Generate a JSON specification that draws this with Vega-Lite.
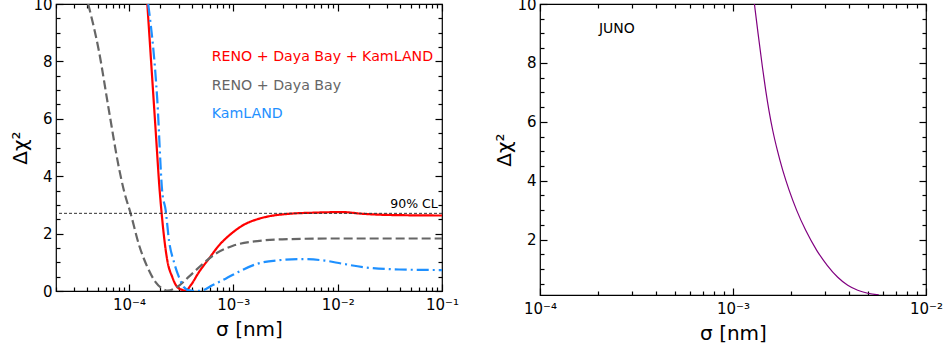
{
  "$schema": "https://vega.github.io/schema/vega-lite/v6.json",
  "padding": {"left": 10, "top": -4, "right": 5, "bottom": 5},
  "background": "white",
  "bounds": "flush",
  "spacing": 98,
  "config": {
    "font": "DejaVu Sans",
    "view": {"stroke": "black", "strokeWidth": 1.2},
    "axis": {
      "domain": false,
      "grid": false,
      "tickColor": "black",
      "tickWidth": 1.2,
      "labelColor": "black",
      "labelFontSize": 15,
      "labelFont": "DejaVu Sans",
      "titleFont": "DejaVu Sans",
      "titleFontSize": 20,
      "titleFontWeight": "normal",
      "titleColor": "black",
      "labelFlush": false,
      "labelOverlap": false,
      "labelBound": false
    }
  },
  "datasets": {
    "left": [
      {"series": "RENO + Daya Bay + KamLAND", "sigma": 0.000150, "chi2": 10.0},
      {"series": "RENO + Daya Bay + KamLAND", "sigma": 0.000170, "chi2": 7.0},
      {"series": "RENO + Daya Bay + KamLAND", "sigma": 0.000181, "chi2": 5.5},
      {"series": "RENO + Daya Bay + KamLAND", "sigma": 0.000197, "chi2": 3.5},
      {"series": "RENO + Daya Bay + KamLAND", "sigma": 0.000206, "chi2": 2.69},
      {"series": "RENO + Daya Bay + KamLAND", "sigma": 0.000220, "chi2": 1.7},
      {"series": "RENO + Daya Bay + KamLAND", "sigma": 0.000233, "chi2": 1.07},
      {"series": "RENO + Daya Bay + KamLAND", "sigma": 0.000260, "chi2": 0.49},
      {"series": "RENO + Daya Bay + KamLAND", "sigma": 0.000290, "chi2": 0.14},
      {"series": "RENO + Daya Bay + KamLAND", "sigma": 0.000324, "chi2": 0.04},
      {"series": "RENO + Daya Bay + KamLAND", "sigma": 0.000350, "chi2": 0.01},
      {"series": "RENO + Daya Bay + KamLAND", "sigma": 0.000391, "chi2": 0.2},
      {"series": "RENO + Daya Bay + KamLAND", "sigma": 0.000469, "chi2": 0.66},
      {"series": "RENO + Daya Bay + KamLAND", "sigma": 0.000585, "chi2": 1.13},
      {"series": "RENO + Daya Bay + KamLAND", "sigma": 0.000730, "chi2": 1.59},
      {"series": "RENO + Daya Bay + KamLAND", "sigma": 0.000980, "chi2": 2.03},
      {"series": "RENO + Daya Bay + KamLAND", "sigma": 0.00131, "chi2": 2.34},
      {"series": "RENO + Daya Bay + KamLAND", "sigma": 0.00170, "chi2": 2.5},
      {"series": "RENO + Daya Bay + KamLAND", "sigma": 0.00205, "chi2": 2.58},
      {"series": "RENO + Daya Bay + KamLAND", "sigma": 0.00342, "chi2": 2.69},
      {"series": "RENO + Daya Bay + KamLAND", "sigma": 0.0060, "chi2": 2.73},
      {"series": "RENO + Daya Bay + KamLAND", "sigma": 0.0111, "chi2": 2.75},
      {"series": "RENO + Daya Bay + KamLAND", "sigma": 0.0173, "chi2": 2.69},
      {"series": "RENO + Daya Bay + KamLAND", "sigma": 0.030, "chi2": 2.65},
      {"series": "RENO + Daya Bay + KamLAND", "sigma": 0.100, "chi2": 2.63},
      {"series": "RENO + Daya Bay", "sigma": 0.0000407, "chi2": 10.0},
      {"series": "RENO + Daya Bay", "sigma": 0.0000515, "chi2": 8.37},
      {"series": "RENO + Daya Bay", "sigma": 0.0000643, "chi2": 6.29},
      {"series": "RENO + Daya Bay", "sigma": 0.0000800, "chi2": 4.31},
      {"series": "RENO + Daya Bay", "sigma": 0.0000895, "chi2": 3.5},
      {"series": "RENO + Daya Bay", "sigma": 0.000104, "chi2": 2.69},
      {"series": "RENO + Daya Bay", "sigma": 0.000125, "chi2": 1.6},
      {"series": "RENO + Daya Bay", "sigma": 0.000150, "chi2": 0.84},
      {"series": "RENO + Daya Bay", "sigma": 0.000180, "chi2": 0.31},
      {"series": "RENO + Daya Bay", "sigma": 0.000217, "chi2": 0.05},
      {"series": "RENO + Daya Bay", "sigma": 0.000235, "chi2": 0.01},
      {"series": "RENO + Daya Bay", "sigma": 0.000290, "chi2": 0.14},
      {"series": "RENO + Daya Bay", "sigma": 0.000376, "chi2": 0.5},
      {"series": "RENO + Daya Bay", "sigma": 0.000505, "chi2": 0.93},
      {"series": "RENO + Daya Bay", "sigma": 0.000678, "chi2": 1.3},
      {"series": "RENO + Daya Bay", "sigma": 0.000980, "chi2": 1.57},
      {"series": "RENO + Daya Bay", "sigma": 0.00170, "chi2": 1.74},
      {"series": "RENO + Daya Bay", "sigma": 0.00295, "chi2": 1.8},
      {"series": "RENO + Daya Bay", "sigma": 0.0089, "chi2": 1.83},
      {"series": "RENO + Daya Bay", "sigma": 0.100, "chi2": 1.83},
      {"series": "KamLAND", "sigma": 0.000153, "chi2": 10.0},
      {"series": "KamLAND", "sigma": 0.000187, "chi2": 6.64},
      {"series": "KamLAND", "sigma": 0.000208, "chi2": 3.5},
      {"series": "KamLAND", "sigma": 0.000225, "chi2": 2.81},
      {"series": "KamLAND", "sigma": 0.000242, "chi2": 1.76},
      {"series": "KamLAND", "sigma": 0.000270, "chi2": 1.01},
      {"series": "KamLAND", "sigma": 0.000301, "chi2": 0.49},
      {"series": "KamLAND", "sigma": 0.000336, "chi2": 0.14},
      {"series": "KamLAND", "sigma": 0.000376, "chi2": 0.02},
      {"series": "KamLAND", "sigma": 0.000440, "chi2": 0.0},
      {"series": "KamLAND", "sigma": 0.000505, "chi2": 0.02},
      {"series": "KamLAND", "sigma": 0.000630, "chi2": 0.2},
      {"series": "KamLAND", "sigma": 0.000845, "chi2": 0.43},
      {"series": "KamLAND", "sigma": 0.00114, "chi2": 0.68},
      {"series": "KamLAND", "sigma": 0.00170, "chi2": 0.95},
      {"series": "KamLAND", "sigma": 0.00270, "chi2": 1.07},
      {"series": "KamLAND", "sigma": 0.00460, "chi2": 1.11},
      {"series": "KamLAND", "sigma": 0.0075, "chi2": 1.06},
      {"series": "KamLAND", "sigma": 0.0111, "chi2": 0.95},
      {"series": "KamLAND", "sigma": 0.0186, "chi2": 0.82},
      {"series": "KamLAND", "sigma": 0.0388, "chi2": 0.75},
      {"series": "KamLAND", "sigma": 0.100, "chi2": 0.73}
    ],
    "right": [
      {"series": "JUNO", "sigma": 0.001291, "chi2": 10.0},
      {"series": "JUNO", "sigma": 0.001343, "chi2": 9.095},
      {"series": "JUNO", "sigma": 0.001421, "chi2": 7.851},
      {"series": "JUNO", "sigma": 0.001478, "chi2": 7.061},
      {"series": "JUNO", "sigma": 0.001536, "chi2": 6.383},
      {"series": "JUNO", "sigma": 0.001607, "chi2": 5.705},
      {"series": "JUNO", "sigma": 0.001698, "chi2": 5.027},
      {"series": "JUNO", "sigma": 0.001811, "chi2": 4.349},
      {"series": "JUNO", "sigma": 0.001955, "chi2": 3.671},
      {"series": "JUNO", "sigma": 0.002138, "chi2": 2.993},
      {"series": "JUNO", "sigma": 0.002381, "chi2": 2.315},
      {"series": "JUNO", "sigma": 0.002715, "chi2": 1.637},
      {"series": "JUNO", "sigma": 0.003077, "chi2": 1.129},
      {"series": "JUNO", "sigma": 0.003489, "chi2": 0.722},
      {"series": "JUNO", "sigma": 0.003931, "chi2": 0.451},
      {"series": "JUNO", "sigma": 0.004429, "chi2": 0.281},
      {"series": "JUNO", "sigma": 0.004992, "chi2": 0.180},
      {"series": "JUNO", "sigma": 0.005692, "chi2": 0.122}
    ]
  },
  "hconcat": [
    {
      "width": 386,
      "height": 287,
      "layer": [
        {
          "data": {"name": "left"},
          "mark": {"type": "line", "strokeWidth": 2.2, "clip": true, "interpolate": "monotone"},
          "encoding": {
            "x": {
              "field": "sigma", "type": "quantitative",
              "scale": {"type": "log", "domain": [0.00002, 0.1], "nice": false},
              "axis": {
                "orient": "bottom",
                "title": "σ [nm]",
                "titlePadding": 4,
                "values": [0.00002, 0.00003, 0.00004, 0.00005, 0.00006, 0.00007, 0.00008, 0.00009, 0.0001, 0.0002, 0.0003, 0.0004, 0.0005, 0.0006, 0.0007, 0.0008, 0.0009, 0.001, 0.002, 0.003, 0.004, 0.005, 0.006, 0.007, 0.008, 0.009, 0.01, 0.02, 0.03, 0.04, 0.05, 0.06, 0.07, 0.08, 0.09, 0.1],
                "labelExpr": "datum.value == 0.0001 ? '10⁻⁴' : datum.value == 0.001 ? '10⁻³' : datum.value == 0.01 ? '10⁻²' : datum.value == 0.1 ? '10⁻¹' : ''",
                "tickSize": {"condition": {"test": "indexof([0.0001, 0.001, 0.01, 0.1], datum.value) >= 0", "value": -7}, "value": -4},
                "labelPadding": 13
              }
            },
            "y": {
              "field": "chi2", "type": "quantitative",
              "scale": {"domain": [0, 10], "nice": false, "zero": false},
              "axis": {
                "orient": "left",
                "title": "Δχ²",
                "titlePadding": 2,
                "values": [0, 0.5, 1, 1.5, 2, 2.5, 3, 3.5, 4, 4.5, 5, 5.5, 6, 6.5, 7, 7.5, 8, 8.5, 9, 9.5, 10],
                "labelExpr": "datum.value % 2 == 0 ? format(datum.value, 'd') : ''",
                "tickSize": {"condition": {"test": "datum.value % 2 == 0", "value": -7}, "value": -4},
                "labelPadding": 11
              }
            },
            "color": {
              "field": "series", "type": "nominal", "legend": null,
              "scale": {"domain": ["RENO + Daya Bay + KamLAND", "RENO + Daya Bay", "KamLAND"], "range": ["#ff0000", "#666666", "#1e90ff"]}
            },
            "strokeDash": {
              "field": "series", "type": "nominal", "legend": null,
              "scale": {"domain": ["RENO + Daya Bay + KamLAND", "RENO + Daya Bay", "KamLAND"], "range": [[1, 0], [9, 4], [12, 4, 2, 4]]}
            }
          }
        },
        {
          "data": {"values": [{}]},
          "mark": {"type": "rule", "color": "#333333", "strokeWidth": 1, "strokeDash": [3, 2]},
          "encoding": {
            "y": {
              "datum": 2.706, "type": "quantitative",
              "scale": {"domain": [0, 10], "nice": false, "zero": false},
              "axis": {
                "orient": "right", "title": null, "labels": false,
                "values": [0, 0.5, 1, 1.5, 2, 2.5, 3, 3.5, 4, 4.5, 5, 5.5, 6, 6.5, 7, 7.5, 8, 8.5, 9, 9.5, 10],
                "tickSize": {"condition": {"test": "datum.value % 2 == 0", "value": -7}, "value": -4}
              }
            }
          }
        },
        {
          "data": {"values": [{}]},
          "mark": {"type": "text", "text": "90% CL", "align": "right", "baseline": "middle", "fontSize": 12.5, "color": "black"},
          "encoding": {
            "x": {
              "datum": 0.091, "type": "quantitative",
              "scale": {"type": "log", "domain": [0.00002, 0.1], "nice": false},
              "axis": {
                "orient": "top", "title": null, "labels": false,
                "values": [0.00002, 0.00003, 0.00004, 0.00005, 0.00006, 0.00007, 0.00008, 0.00009, 0.0001, 0.0002, 0.0003, 0.0004, 0.0005, 0.0006, 0.0007, 0.0008, 0.0009, 0.001, 0.002, 0.003, 0.004, 0.005, 0.006, 0.007, 0.008, 0.009, 0.01, 0.02, 0.03, 0.04, 0.05, 0.06, 0.07, 0.08, 0.09, 0.1],
                "tickSize": {"condition": {"test": "indexof([0.0001, 0.001, 0.01, 0.1], datum.value) >= 0", "value": -7}, "value": -4}
              }
            },
            "y": {"datum": 3.02, "type": "quantitative", "scale": {"domain": [0, 10], "nice": false, "zero": false}, "axis": null}
          }
        },
        {
          "data": {"values": [{}]},
          "mark": {"type": "text", "text": "RENO + Daya Bay + KamLAND", "align": "left", "baseline": "middle", "fontSize": 14.2, "color": "#ff0000"},
          "encoding": {
            "x": {"datum": 0.00062, "type": "quantitative", "scale": {"type": "log", "domain": [0.00002, 0.1], "nice": false}, "axis": null},
            "y": {"datum": 8.17, "type": "quantitative", "scale": {"domain": [0, 10], "nice": false, "zero": false}, "axis": null}
          }
        },
        {
          "data": {"values": [{}]},
          "mark": {"type": "text", "text": "RENO + Daya Bay", "align": "left", "baseline": "middle", "fontSize": 14.2, "color": "#666666"},
          "encoding": {
            "x": {"datum": 0.00062, "type": "quantitative", "scale": {"type": "log", "domain": [0.00002, 0.1], "nice": false}, "axis": null},
            "y": {"datum": 7.16, "type": "quantitative", "scale": {"domain": [0, 10], "nice": false, "zero": false}, "axis": null}
          }
        },
        {
          "data": {"values": [{}]},
          "mark": {"type": "text", "text": "KamLAND", "align": "left", "baseline": "middle", "fontSize": 14.2, "color": "#1e90ff"},
          "encoding": {
            "x": {"datum": 0.00062, "type": "quantitative", "scale": {"type": "log", "domain": [0.00002, 0.1], "nice": false}, "axis": null},
            "y": {"datum": 6.18, "type": "quantitative", "scale": {"domain": [0, 10], "nice": false, "zero": false}, "axis": null}
          }
        }
      ],
      "resolve": {"axis": {"x": "independent", "y": "independent"}}
    },
    {
      "width": 386,
      "height": 291,
      "layer": [
        {
          "data": {"name": "right"},
          "mark": {"type": "line", "strokeWidth": 1.2, "clip": true, "interpolate": "monotone", "color": "#800080"},
          "encoding": {
            "x": {
              "field": "sigma", "type": "quantitative",
              "scale": {"type": "log", "domain": [0.0001, 0.01], "nice": false},
              "axis": {
                "orient": "bottom",
                "title": "σ [nm]",
                "titlePadding": 4,
                "values": [0.0001, 0.0002, 0.0003, 0.0004, 0.0005, 0.0006, 0.0007, 0.0008, 0.0009, 0.001, 0.002, 0.003, 0.004, 0.005, 0.006, 0.007, 0.008, 0.009, 0.01],
                "labelExpr": "datum.value == 0.0001 ? '10⁻⁴' : datum.value == 0.001 ? '10⁻³' : datum.value == 0.01 ? '10⁻²' : ''",
                "tickSize": {"condition": {"test": "indexof([0.0001, 0.001, 0.01], datum.value) >= 0", "value": -7}, "value": -4},
                "labelPadding": 13
              }
            },
            "y": {
              "field": "chi2", "type": "quantitative",
              "scale": {"domain": [0.12, 10], "nice": false, "zero": false},
              "axis": {
                "orient": "left",
                "title": "Δχ²",
                "titlePadding": 2,
                "values": [0.5, 1, 1.5, 2, 2.5, 3, 3.5, 4, 4.5, 5, 5.5, 6, 6.5, 7, 7.5, 8, 8.5, 9, 9.5, 10],
                "labelExpr": "datum.value % 2 == 0 ? format(datum.value, 'd') : ''",
                "tickSize": {"condition": {"test": "datum.value % 2 == 0", "value": -7}, "value": -4},
                "labelPadding": 11
              }
            }
          }
        },
        {
          "data": {"values": [{}]},
          "mark": {"type": "text", "text": "JUNO", "align": "left", "baseline": "middle", "fontSize": 14, "color": "black"},
          "encoding": {
            "x": {
              "datum": 0.000202, "type": "quantitative",
              "scale": {"type": "log", "domain": [0.0001, 0.01], "nice": false},
              "axis": {
                "orient": "top", "title": null, "labels": false,
                "values": [0.0001, 0.0002, 0.0003, 0.0004, 0.0005, 0.0006, 0.0007, 0.0008, 0.0009, 0.001, 0.002, 0.003, 0.004, 0.005, 0.006, 0.007, 0.008, 0.009, 0.01],
                "tickSize": {"condition": {"test": "indexof([0.0001, 0.001, 0.01], datum.value) >= 0", "value": -7}, "value": -4}
              }
            },
            "y": {
              "datum": 9.16, "type": "quantitative",
              "scale": {"domain": [0.12, 10], "nice": false, "zero": false},
              "axis": {
                "orient": "right", "title": null, "labels": false,
                "values": [0.5, 1, 1.5, 2, 2.5, 3, 3.5, 4, 4.5, 5, 5.5, 6, 6.5, 7, 7.5, 8, 8.5, 9, 9.5, 10],
                "tickSize": {"condition": {"test": "datum.value % 2 == 0", "value": -7}, "value": -4}
              }
            }
          }
        }
      ],
      "resolve": {"axis": {"x": "independent", "y": "independent"}}
    }
  ]
}
